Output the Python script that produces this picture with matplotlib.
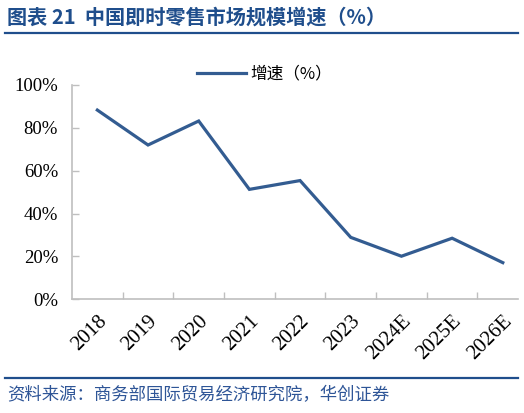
import matplotlib.pyplot as plt
from matplotlib.lines import Line2D
from matplotlib.ticker import FuncFormatter

plt.rcParams['font.family'] = ['Noto Sans CJK SC', 'DejaVu Sans']

years = ['2018', '2019', '2020', '2021', '2022', '2023', '2024E', '2025E', '2026E']
growth = [88.3, 72.0, 83.2, 51.3, 55.4, 28.9, 20.1, 28.5, 17.1]

title = '图表 21  中国即时零售市场规模增速（%）'
source = '资料来源：商务部国际贸易经济研究院，华创证券'
series_name = '增速（%）'

line_color = '#335c91'
dark_blue = '#1f4e8c'
axis_gray = '#bfbfbf'

fig = plt.figure(figsize=(5.24, 4.13), dpi=100)
W, H = 524, 413

# axes area in pixels: left 72, right 518, top 85, bottom 299.3
ax = fig.add_axes([72 / W, (H - 299.3) / H, (518 - 72) / W, (299.3 - 85) / H])

x = list(range(len(years)))
ax.plot(x, [g / 100 for g in growth], color=line_color, lw=2.3,
        solid_joinstyle='miter', label=series_name)

ax.set_xlim(-0.5, 8.3)
ax.set_ylim(0, 1)
ax.set_yticks([0, 0.2, 0.4, 0.6, 0.8, 1.0])
ax.yaxis.set_major_formatter(FuncFormatter(lambda v, p: f'{v * 100:.0f}%'))

# category boundary ticks on x, labels at centers
ax.set_xticks([i + 0.5 for i in range(len(years) - 1)])
ax.set_xticklabels([])
ax.set_xticks(x, minor=True)
ax.set_xticklabels(years, minor=True, rotation=45, ha='right', va='top',
                   rotation_mode='anchor', family='Liberation Serif', fontsize=15)
ax.tick_params(axis='x', which='minor', length=0, pad=9)
ax.tick_params(axis='x', which='major', direction='in', length=5, color=axis_gray, width=1)
ax.tick_params(axis='y', direction='in', length=5, color=axis_gray, width=1, pad=10)
for lab in ax.get_yticklabels():
    lab.set_family('Liberation Serif')
    lab.set_fontsize(13.5)

for s in ['top', 'right']:
    ax.spines[s].set_visible(False)
for s in ['left', 'bottom']:
    ax.spines[s].set_color(axis_gray)
    ax.spines[s].set_linewidth(1.2)

leg = fig.legend(loc='center', bbox_to_anchor=(265 / W, (H - 74) / H), frameon=False,
                 prop={'family': ['Noto Sans CJK SC'], 'size': 12},
                 handlelength=2.9, handletextpad=0.3)

# title, rules and source
fig.text(7 / W, (H - 17) / H, title, color=dark_blue, fontsize=14.5, fontweight='bold',
         ha='left', va='center')
fig.add_artist(Line2D([5 / W, 518 / W], [(H - 33) / H] * 2, color=dark_blue, lw=1.6))
fig.add_artist(Line2D([5 / W, 518 / W], [(H - 378) / H] * 2, color=dark_blue, lw=1.6))
fig.text(7 / W, (H - 395) / H, source, color='#2e5597', fontsize=12.5, style='italic',
         ha='left', va='center')

fig.savefig('out.png', dpi=100)
